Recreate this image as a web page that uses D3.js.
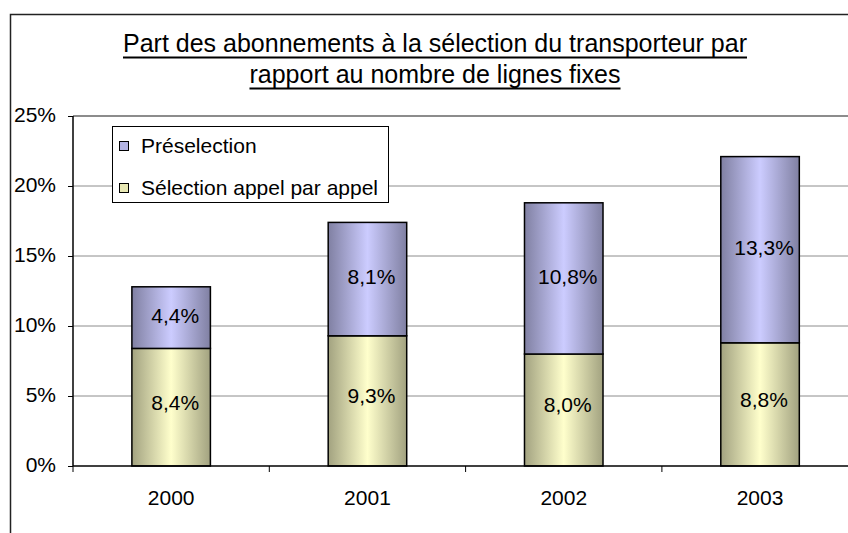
<!DOCTYPE html>
<html>
<head>
<meta charset="utf-8">
<script src="https://cdn.jsdelivr.net/npm/d3@7/dist/d3.min.js"></script>
<style>
  body { margin: 0; background: #fff; }
  svg { display: block; font-family: "Liberation Sans", Arial, sans-serif; }
</style>
</head>
<body>
<script>
// chart data
const years = ['2000', '2001', '2002', '2003'];
const selectionAppel = [8.4, 9.3, 8.0, 8.8];
const preselection = [4.4, 8.1, 10.8, 13.3];
const yTicks = [0, 5, 10, 15, 20, 25];
const titleLines = [
  'Part des abonnements à la sélection du transporteur par',
  'rapport au nombre de lignes fixes'
];
const legendLabels = ['Préselection', 'Sélection appel par appel'];

const width = 848;
const height = 533;
const plot = { left: 73, top: 116, bottom: 466, step: 196.3 };

const svg = d3.select('body')
  .append('svg')
  .attr('width', width)
  .attr('height', height);

// gradients (Excel style, dark edges, light centre)
const defs = svg.append('defs');
function gradient(id, edge, mid) {
  const g = defs.append('linearGradient').attr('id', id)
    .attr('x1', '0%').attr('x2', '100%').attr('y1', '0%').attr('y2', '0%');
  g.append('stop').attr('offset', '0%').attr('stop-color', edge);
  g.append('stop').attr('offset', '50%').attr('stop-color', mid);
  g.append('stop').attr('offset', '100%').attr('stop-color', edge);
}
gradient('gBlue', '#8080a2', '#ccccff');
gradient('gYellow', '#a2a280', '#ffffcc');

// outer chart frame (cropped on the right and bottom)
svg.append('rect')
  .attr('x', 10.5).attr('y', 14.5)
  .attr('width', 900).attr('height', 600)
  .attr('fill', 'none')
  .attr('stroke', '#222')
  .attr('stroke-width', 1.5);

// scales
const x = d3.scaleBand()
  .domain(years)
  .range([plot.left, plot.left + plot.step * years.length])
  .padding(0);

const y = d3.scaleLinear()
  .domain([0, 25])
  .range([plot.bottom, plot.top]);

const barW = x.bandwidth() * 0.4;

// gridlines
svg.append('g')
  .selectAll('line')
  .data(yTicks.filter(d => d > 0 && d < 25))
  .enter()
  .append('line')
  .attr('x1', plot.left).attr('x2', width)
  .attr('y1', d => y(d)).attr('y2', d => y(d))
  .attr('stroke', '#8c8c8c')
  .attr('stroke-width', 1);

// plot area top border
svg.append('line')
  .attr('x1', plot.left).attr('x2', width)
  .attr('y1', y(25)).attr('y2', y(25))
  .attr('stroke', '#8c8c8c')
  .attr('stroke-width', 2);

// stacked bars
const stacks = years.map((yr, i) => ({
  year: yr,
  segs: [
    { v: selectionAppel[i], y0: 0, y1: selectionAppel[i], fill: 'url(#gYellow)', dy: -5 },
    { v: preselection[i], y0: selectionAppel[i], y1: selectionAppel[i] + preselection[i], fill: 'url(#gBlue)', dy: -2 }
  ]
}));

const groups = svg.append('g')
  .selectAll('g')
  .data(stacks)
  .enter()
  .append('g');

groups.selectAll('rect')
  .data(d => d.segs.map(s => Object.assign({ year: d.year }, s)))
  .enter()
  .append('rect')
  .attr('x', d => x(d.year) + (x.bandwidth() - barW) / 2)
  .attr('y', d => y(d.y1))
  .attr('width', barW)
  .attr('height', d => y(d.y0) - y(d.y1))
  .attr('fill', d => d.fill)
  .attr('stroke', '#000')
  .attr('stroke-width', 1.5);

groups.selectAll('text')
  .data(d => d.segs.map(s => Object.assign({ year: d.year }, s)))
  .enter()
  .append('text')
  .attr('x', d => x(d.year) + x.bandwidth() / 2 + 4)
  .attr('y', d => (y(d.y0) + y(d.y1)) / 2 + d.dy)
  .attr('dy', '0.35em')
  .attr('text-anchor', 'middle')
  .attr('font-size', 21)
  .attr('fill', '#000')
  .text(d => d.v.toFixed(1).replace('.', ',') + '%');

// y axis
const yAxis = d3.axisLeft(y)
  .tickValues(yTicks)
  .tickSize(5)
  .tickPadding(12)
  .tickFormat(d => d + '%');

const gy = svg.append('g')
  .attr('transform', `translate(${plot.left},0)`)
  .call(yAxis);
gy.select('.domain').attr('stroke', '#000').attr('stroke-width', 1.5)
  .attr('d', `M-0,${y(25)}V${y(0)}`);
gy.selectAll('.tick line').attr('stroke', '#000');
gy.selectAll('.tick text')
  .attr('font-size', 21)
  .attr('font-family', '"Liberation Sans", Arial, sans-serif')
  .attr('fill', '#000')
  .attr('dy', '0.28em');

// x axis
const xAxis = d3.axisBottom(x)
  .tickSize(0)
  .tickPadding(24);

const gx = svg.append('g')
  .attr('transform', `translate(0,${plot.bottom})`)
  .call(xAxis);
gx.select('.domain').attr('stroke', '#000').attr('stroke-width', 1.5)
  .attr('d', `M${plot.left},0H${width}`);
gx.selectAll('.tick text')
  .attr('font-size', 21)
  .attr('font-family', '"Liberation Sans", Arial, sans-serif')
  .attr('fill', '#000');

// category separators on the x axis
gx.selectAll('.sep')
  .data(years)
  .enter()
  .append('line')
  .attr('class', 'sep')
  .attr('x1', d => x(d) + x.bandwidth()).attr('x2', d => x(d) + x.bandwidth())
  .attr('y1', 0).attr('y2', 6)
  .attr('stroke', '#000');
gx.append('line')
  .attr('x1', plot.left).attr('x2', plot.left)
  .attr('y1', 0).attr('y2', 6)
  .attr('stroke', '#000');

// legend
const legend = svg.append('g');
legend.append('rect')
  .attr('x', 112.5).attr('y', 126.5)
  .attr('width', 276).attr('height', 76)
  .attr('fill', '#fff')
  .attr('stroke', '#000')
  .attr('stroke-width', 1);

const legendSolid = ['#b4b4e4', '#e8e8b4'];
const legendRows = [146, 188];
legendLabels.forEach((lab, i) => {
  legend.append('rect')
    .attr('x', 119.5).attr('y', legendRows[i] - 4.5)
    .attr('width', 9).attr('height', 9)
    .attr('fill', legendSolid[i])
    .attr('stroke', '#000')
    .attr('stroke-width', 1);
  legend.append('text')
    .attr('x', 141)
    .attr('y', legendRows[i])
    .attr('dy', '0.35em')
    .attr('font-size', 21)
    .attr('fill', '#000')
    .text(lab);
});

// title, underlined
const title = svg.append('g');
titleLines.forEach((line, i) => {
  const t = title.append('text')
    .attr('x', 435)
    .attr('y', 52 + i * 31)
    .attr('text-anchor', 'middle')
    .attr('font-size', 25)
    .attr('fill', '#000')
    .text(line);
  const w = t.node().getComputedTextLength();
  title.append('line')
    .attr('x1', 435 - w / 2).attr('x2', 435 + w / 2)
    .attr('y1', 57.5 + i * 31).attr('y2', 57.5 + i * 31)
    .attr('stroke', '#000')
    .attr('stroke-width', 2);
});
</script>
</body>
</html>
